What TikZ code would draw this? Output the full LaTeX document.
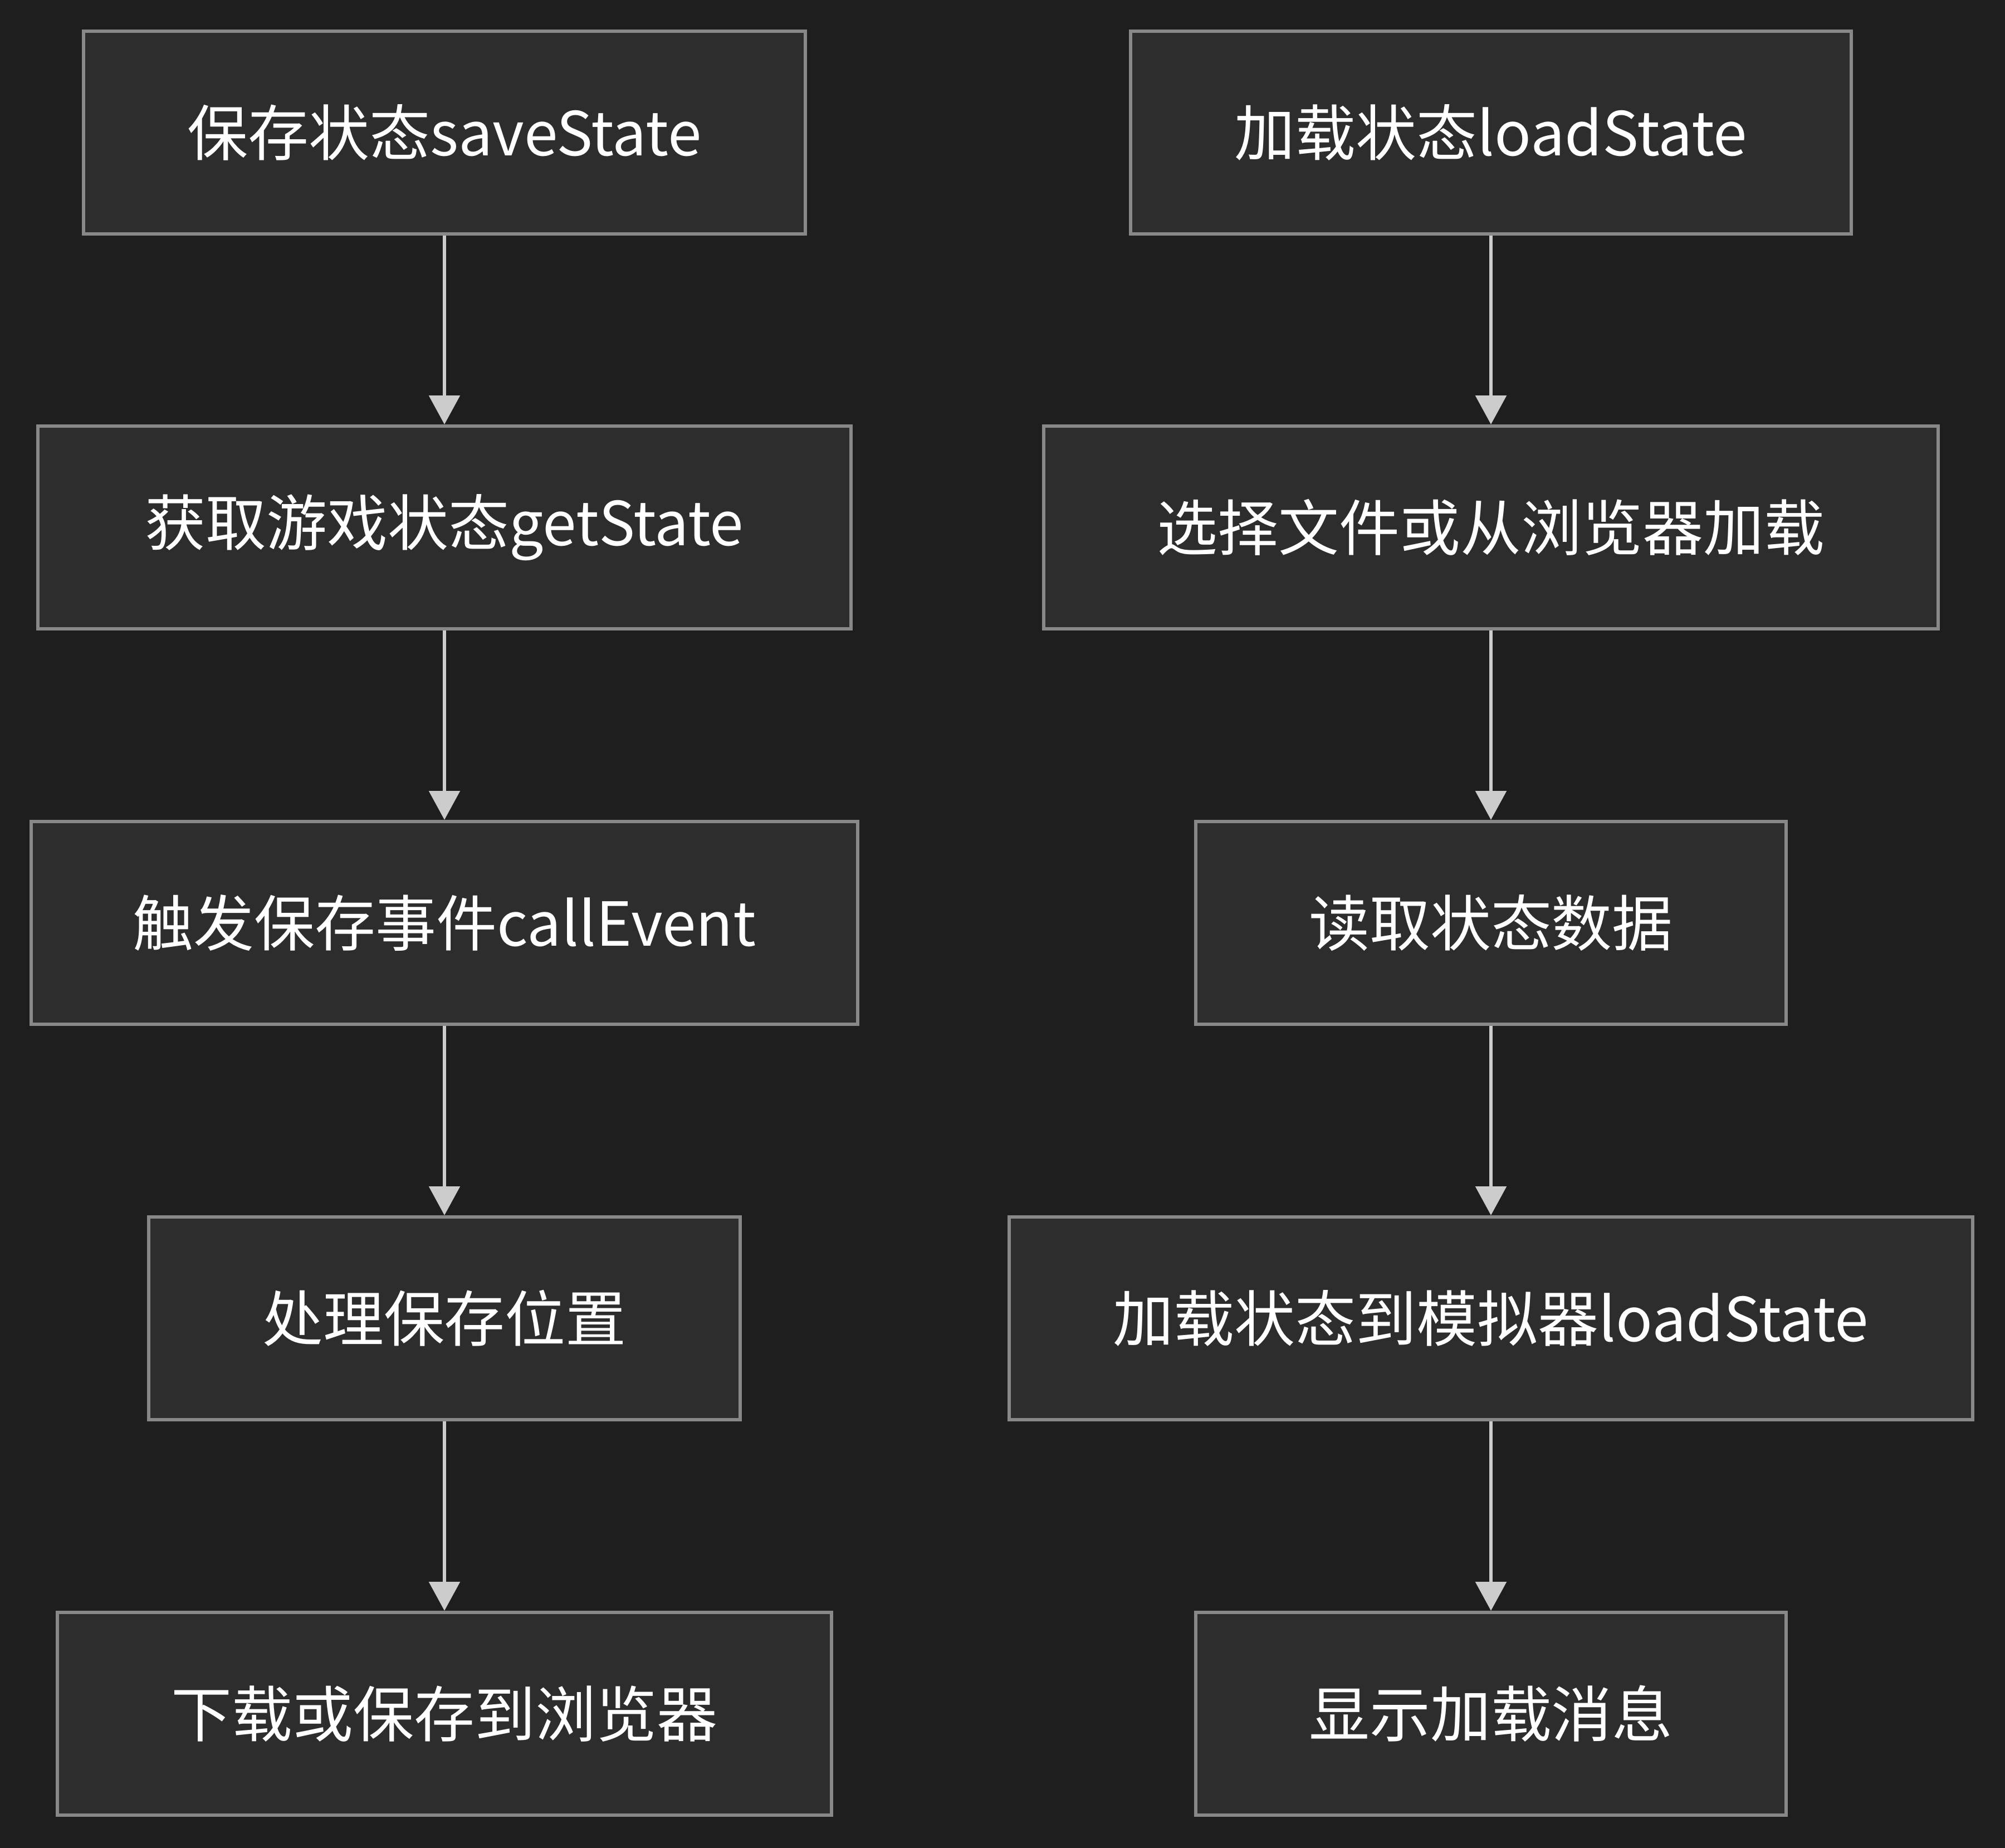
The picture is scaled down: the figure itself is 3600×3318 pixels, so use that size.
\documentclass[tikz,border=0pt]{standalone}
\usepackage{fontspec}
\setmainfont{Noto Sans CJK SC}
\definecolor{canvasbg}{HTML}{1E1E1E}
\definecolor{boxfill}{HTML}{2D2D2D}
\definecolor{boxline}{HTML}{888888}
\definecolor{arrowgrey}{HTML}{CCCCCC}
\usepackage{tikz}
\usetikzlibrary{arrows.meta, positioning}

\begin{document}
\begin{tikzpicture}[x=0.1pt, y=-0.1pt,
  stepbox/.style={draw=boxline, fill=boxfill, line width=0.6pt, minimum height=36.4pt, inner sep=0pt, text=white, font=\fontsize{10.9pt}{13pt}\selectfont},
  flowarrow/.style={draw=arrowgrey, line width=0.6pt, -{Triangle[length=5.2pt, width=5.5pt]}}]
  \fill[canvasbg] (0,0) rectangle (3600,3318);
  \useasboundingbox (0,0) rectangle (3600,3318);

  % save column
  \node[stepbox, minimum width=129.6pt] (save1) at (798,238) {保存状态saveState};
  \node[stepbox, minimum width=146.1pt] (save2) at (798,947) {获取游戏状态getState};
  \node[stepbox, minimum width=148.4pt] (save3) at (798,1657) {触发保存事件callEvent};
  \node[stepbox, minimum width=106.2pt] (save4) at (798,2367) {处理保存位置};
  \node[stepbox, minimum width=139.0pt] (save5) at (798,3077) {下载或保存到浏览器};

  % load column
  \node[stepbox, minimum width=129.4pt] (load1) at (2677,238) {加载状态loadState};
  \node[stepbox, minimum width=160.6pt] (load2) at (2677,947) {选择文件或从浏览器加载};
  \node[stepbox, minimum width=106.0pt] (load3) at (2677,1657) {读取状态数据};
  \node[stepbox, minimum width=173.0pt] (load4) at (2677,2367) {加载状态到模拟器loadState};
  \node[stepbox, minimum width=106.0pt] (load5) at (2677,3077) {显示加载消息};

  \draw[flowarrow] (save1) -- (save2);
  \draw[flowarrow] (save2) -- (save3);
  \draw[flowarrow] (save3) -- (save4);
  \draw[flowarrow] (save4) -- (save5);
  \draw[flowarrow] (load1) -- (load2);
  \draw[flowarrow] (load2) -- (load3);
  \draw[flowarrow] (load3) -- (load4);
  \draw[flowarrow] (load4) -- (load5);
\end{tikzpicture}
\end{document}
